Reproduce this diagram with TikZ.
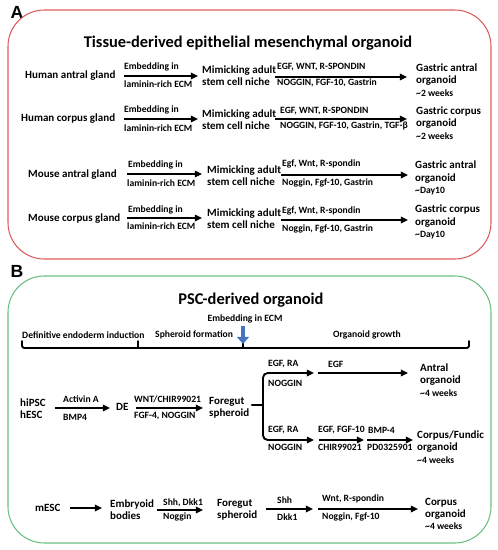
\documentclass[tikz,border=0pt]{standalone}
\usepackage{fontspec}
\setmainfont{Carlito}
\newfontfamily\letterfont{Liberation Sans}
\usetikzlibrary{arrows.meta}
\definecolor{boxred}{RGB}{222,90,90}
\definecolor{boxgreen}{RGB}{104,190,128}
\definecolor{ecmblue}{RGB}{70,114,196}
\newcommand{\wkfont}{\fontsize{8.2}{9}\selectfont}

\begin{document}
\begin{tikzpicture}[x=0.03cm, y=-0.03cm,
    txt/.style={font=\fontsize{9.4}{10.4}\selectfont\bfseries, inner sep=0pt, anchor=west, align=left},
    sml/.style={font=\fontsize{8.2}{9}\selectfont\bfseries, inner sep=0pt, anchor=west},
    stg/.style={font=\fontsize{8.2}{9}\selectfont\bfseries, inner sep=0pt, anchor=west},
    ttl/.style={font=\fontsize{14}{15}\selectfont\bfseries, inner sep=0pt},
    panel/.style={font=\letterfont\fontsize{15}{17}\selectfont\bfseries, inner sep=0pt},
    arr/.style={line width=1.6pt, -{Triangle[length=6pt, width=5.5pt]}},
    bar/.style={line width=1.6pt, line cap=round},
    frame/.style={line width=0.9pt, rounded corners=31pt}]
    \useasboundingbox (0,0) rectangle (498,550);

    % ===== Panel A =====
    \node[panel] (labA) at (17,12) {A};
    \draw[frame, boxred] (8,10) rectangle (491,259);
    \node[ttl] (ttlA) at (248,43) {Tissue-derived epithelial mesenchymal organoid};

    % --- Row 1: human antral gland ---
    \node[txt] (hag) at (25,76) {Human antral gland};
    \coordinate (a1s) at (124,76); \coordinate (a1e) at (198,76);
    \draw[arr] (a1s) -- (a1e);
    \node[sml] (a1t) at (124,67) {Embedding in};
    \node[sml] (a1b) at (124,84) {laminin-rich ECM};
    \node[txt] (hagn) at (202,76) {Mimicking adult\\stem cell niche};
    \coordinate (b1s) at (275,77); \coordinate (b1e) at (407,77);
    \draw[arr] (b1s) -- (b1e);
    \node[sml] (b1t) at (277,67) {EGF, WNT, R-SPONDIN};
    \node[sml] (b1b) at (277,83) {NOGGIN, FGF-10, Gastrin};
    \node[txt] (hago) at (416,80) {Gastric antral\\organoid\\{\wkfont\textasciitilde 2 weeks}};

    % --- Row 2: human corpus gland ---
    \node[txt] (hcg) at (21,119) {Human corpus gland};
    \coordinate (a2s) at (124,119); \coordinate (a2e) at (198,119);
    \draw[arr] (a2s) -- (a2e);
    \node[sml] (a2t) at (124,110) {Embedding in};
    \node[sml] (a2b) at (124,128) {laminin-rich ECM};
    \node[txt] (hcgn) at (202,119.5) {Mimicking adult\\stem cell niche};
    \coordinate (b2s) at (275,119); \coordinate (b2e) at (407,119);
    \draw[arr] (b2s) -- (b2e);
    \node[sml] (b2t) at (280,111) {EGF, WNT, R-SPONDIN};
    \node[sml] (b2b) at (280,126) {NOGGIN, FGF-10, Gastrin, TGF-β};
    \node[txt] (hcgo) at (416,123) {Gastric corpus\\organoid\\{\wkfont\textasciitilde 2 weeks}};

    % --- Row 3: mouse antral gland ---
    \node[txt] (mag) at (28,175) {Mouse antral gland};
    \coordinate (a3s) at (127,174); \coordinate (a3e) at (202,174);
    \draw[arr] (a3s) -- (a3e);
    \node[sml] (a3t) at (128,165) {Embedding in};
    \node[sml] (a3b) at (127,183) {laminin-rich ECM};
    \node[txt] (magn) at (207,175.5) {Mimicking adult\\stem cell niche};
    \coordinate (b3s) at (281,175); \coordinate (b3e) at (408,175);
    \draw[arr] (b3s) -- (b3e);
    \node[sml] (b3t) at (282,164) {Egf, Wnt, R-spondin};
    \node[sml] (b3b) at (282,183) {Noggin, Fgf-10, Gastrin};
    \node[txt] (mago) at (415,178) {Gastric antral\\organoid\\{\wkfont\textasciitilde Day10}};

    % --- Row 4: mouse corpus gland ---
    \node[txt] (mcg) at (28,219) {Mouse corpus gland};
    \coordinate (a4s) at (127,218); \coordinate (a4e) at (202,218);
    \draw[arr] (a4s) -- (a4e);
    \node[sml] (a4t) at (128,210) {Embedding in};
    \node[sml] (a4b) at (127,226) {laminin-rich ECM};
    \node[txt] (mcgn) at (207,219) {Mimicking adult\\stem cell niche};
    \coordinate (b4s) at (281,220); \coordinate (b4e) at (408,220);
    \draw[arr] (b4s) -- (b4e);
    \node[sml] (b4t) at (282,211) {Egf, Wnt, R-spondin};
    \node[sml] (b4b) at (282,229) {Noggin, Fgf-10, Gastrin};
    \node[txt] (mcgo) at (415,222) {Gastric corpus\\organoid\\{\wkfont\textasciitilde Day10}};

    % ===== Panel B =====
    \node[panel] (labB) at (17,271) {B};
    \draw[frame, boxgreen] (8,276) rectangle (491,543);
    \node[ttl] (ttlB) at (251,300) {PSC-derived organoid};

    % --- Time line ---
    \node[stg] (st1) at (22,335) {Definitive endoderm induction};
    \node[stg] (st2) at (155,335) {Spheroid formation};
    \node[stg, anchor=center] (st3) at (367,335) {Organoid growth};
    \draw[bar, rounded corners=2pt] (22,341) -- (22,348) -- (469,348) -- (469,341);
    \draw[bar] (138,341) -- (138,348);
    \draw[bar] (243,341) -- (243,348);
    \node[stg, anchor=center] (emb) at (245,319) {Embedding in ECM};
    \coordinate (embtop) at (243,326); \coordinate (embtip) at (243,344);
    \draw[ecmblue, line width=4pt, -{Triangle[length=6pt, width=10pt]}] (embtop) -- (embtip);

    % --- hiPSC / hESC route ---
    \node[txt] (hpsc) at (20,408.5) {hiPSC\\hESC};
    \coordinate (c1s) at (55,408); \coordinate (c1e) at (110,408);
    \draw[arr] (c1s) -- (c1e);
    \node[sml] (c1t) at (63,399) {Activin A};
    \node[sml] (c1b) at (63,417) {BMP4};
    \node[txt] (de) at (116,407) {DE};
    \coordinate (c2s) at (136,408); \coordinate (c2e) at (203,408);
    \draw[arr] (c2s) -- (c2e);
    \node[sml] (c2t) at (134,399) {WNT/CHIR99021};
    \node[sml] (c2b) at (134,416) {FGF-4, NOGGIN};
    \node[txt] (fs1) at (209,407.5) {Foregut\\spheroid};

    % branch point
    \coordinate (split) at (263,405);
    \draw[bar] ([xshift=2pt]fs1.east |- split) -- (split);
    \draw[arr, rounded corners=4pt] (split) |- (314,373);
    \draw[arr, rounded corners=4pt] (split) |- (314,440);
    \node[sml] (u1t) at (268,364) {EGF, RA};
    \node[sml] (u1b) at (268,383) {NOGGIN};
    \node[sml] (l1t) at (268,430) {EGF, RA};
    \node[sml] (l1b) at (268,447) {NOGGIN};

    % antral branch
    \coordinate (u2s) at (318,373); \coordinate (u2e) at (408,373);
    \draw[arr] (u2s) -- (u2e);
    \node[sml] (u2t) at (328,364) {EGF};
    \node[txt] (anto) at (420,380) {Antral\\organoid\\{\wkfont\textasciitilde 4 weeks}};

    % corpus / fundic branch
    \coordinate (l2s) at (319,440); \coordinate (l2e) at (364,440);
    \draw[arr] (l2s) -- (l2e);
    \node[sml] (l2t) at (318,430) {EGF, FGF-10};
    \node[sml] (l2b) at (318,447) {CHIR99021};
    \coordinate (l3s) at (367,440); \coordinate (l3e) at (413,440);
    \draw[arr] (l3s) -- (l3e);
    \node[sml] (l3t) at (368,430) {BMP-4};
    \node[sml] (l3b) at (367,447) {PD0325901};
    \node[txt] (fundo) at (417,447) {Corpus/Fundic\\organoid\\{\wkfont\textasciitilde 4 weeks}};

    % --- mESC route ---
    \node[txt] (mesc) at (35,508) {mESC};
    \coordinate (m1s) at (70,508); \coordinate (m1e) at (102,508);
    \draw[arr] (m1s) -- (m1e);
    \node[txt] (eb) at (110,509.5) {Embryoid\\bodies};
    \coordinate (m2s) at (157,510); \coordinate (m2e) at (203,510);
    \draw[arr] (m2s) -- (m2e);
    \node[sml] (m2t) at (163,503) {Shh, Dkk1};
    \node[sml] (m2b) at (163,517) {Noggin};
    \node[txt] (fs2) at (217,510) {Foregut\\spheroid};
    \coordinate (m3s) at (266,509); \coordinate (m3e) at (313,509);
    \draw[arr] (m3s) -- (m3e);
    \node[sml] (m3t) at (277,500) {Shh};
    \node[sml] (m3b) at (277,517) {Dkk1};
    \coordinate (m4s) at (318,509); \coordinate (m4e) at (418,509);
    \draw[arr] (m4s) -- (m4e);
    \node[sml] (m4t) at (322,499) {Wnt, R-spondin};
    \node[sml] (m4b) at (322,517) {Noggin, Fgf-10};
    \node[txt] (corpo) at (425,514) {Corpus\\organoid\\{\wkfont\textasciitilde 4 weeks}};
\end{tikzpicture}
\end{document}
